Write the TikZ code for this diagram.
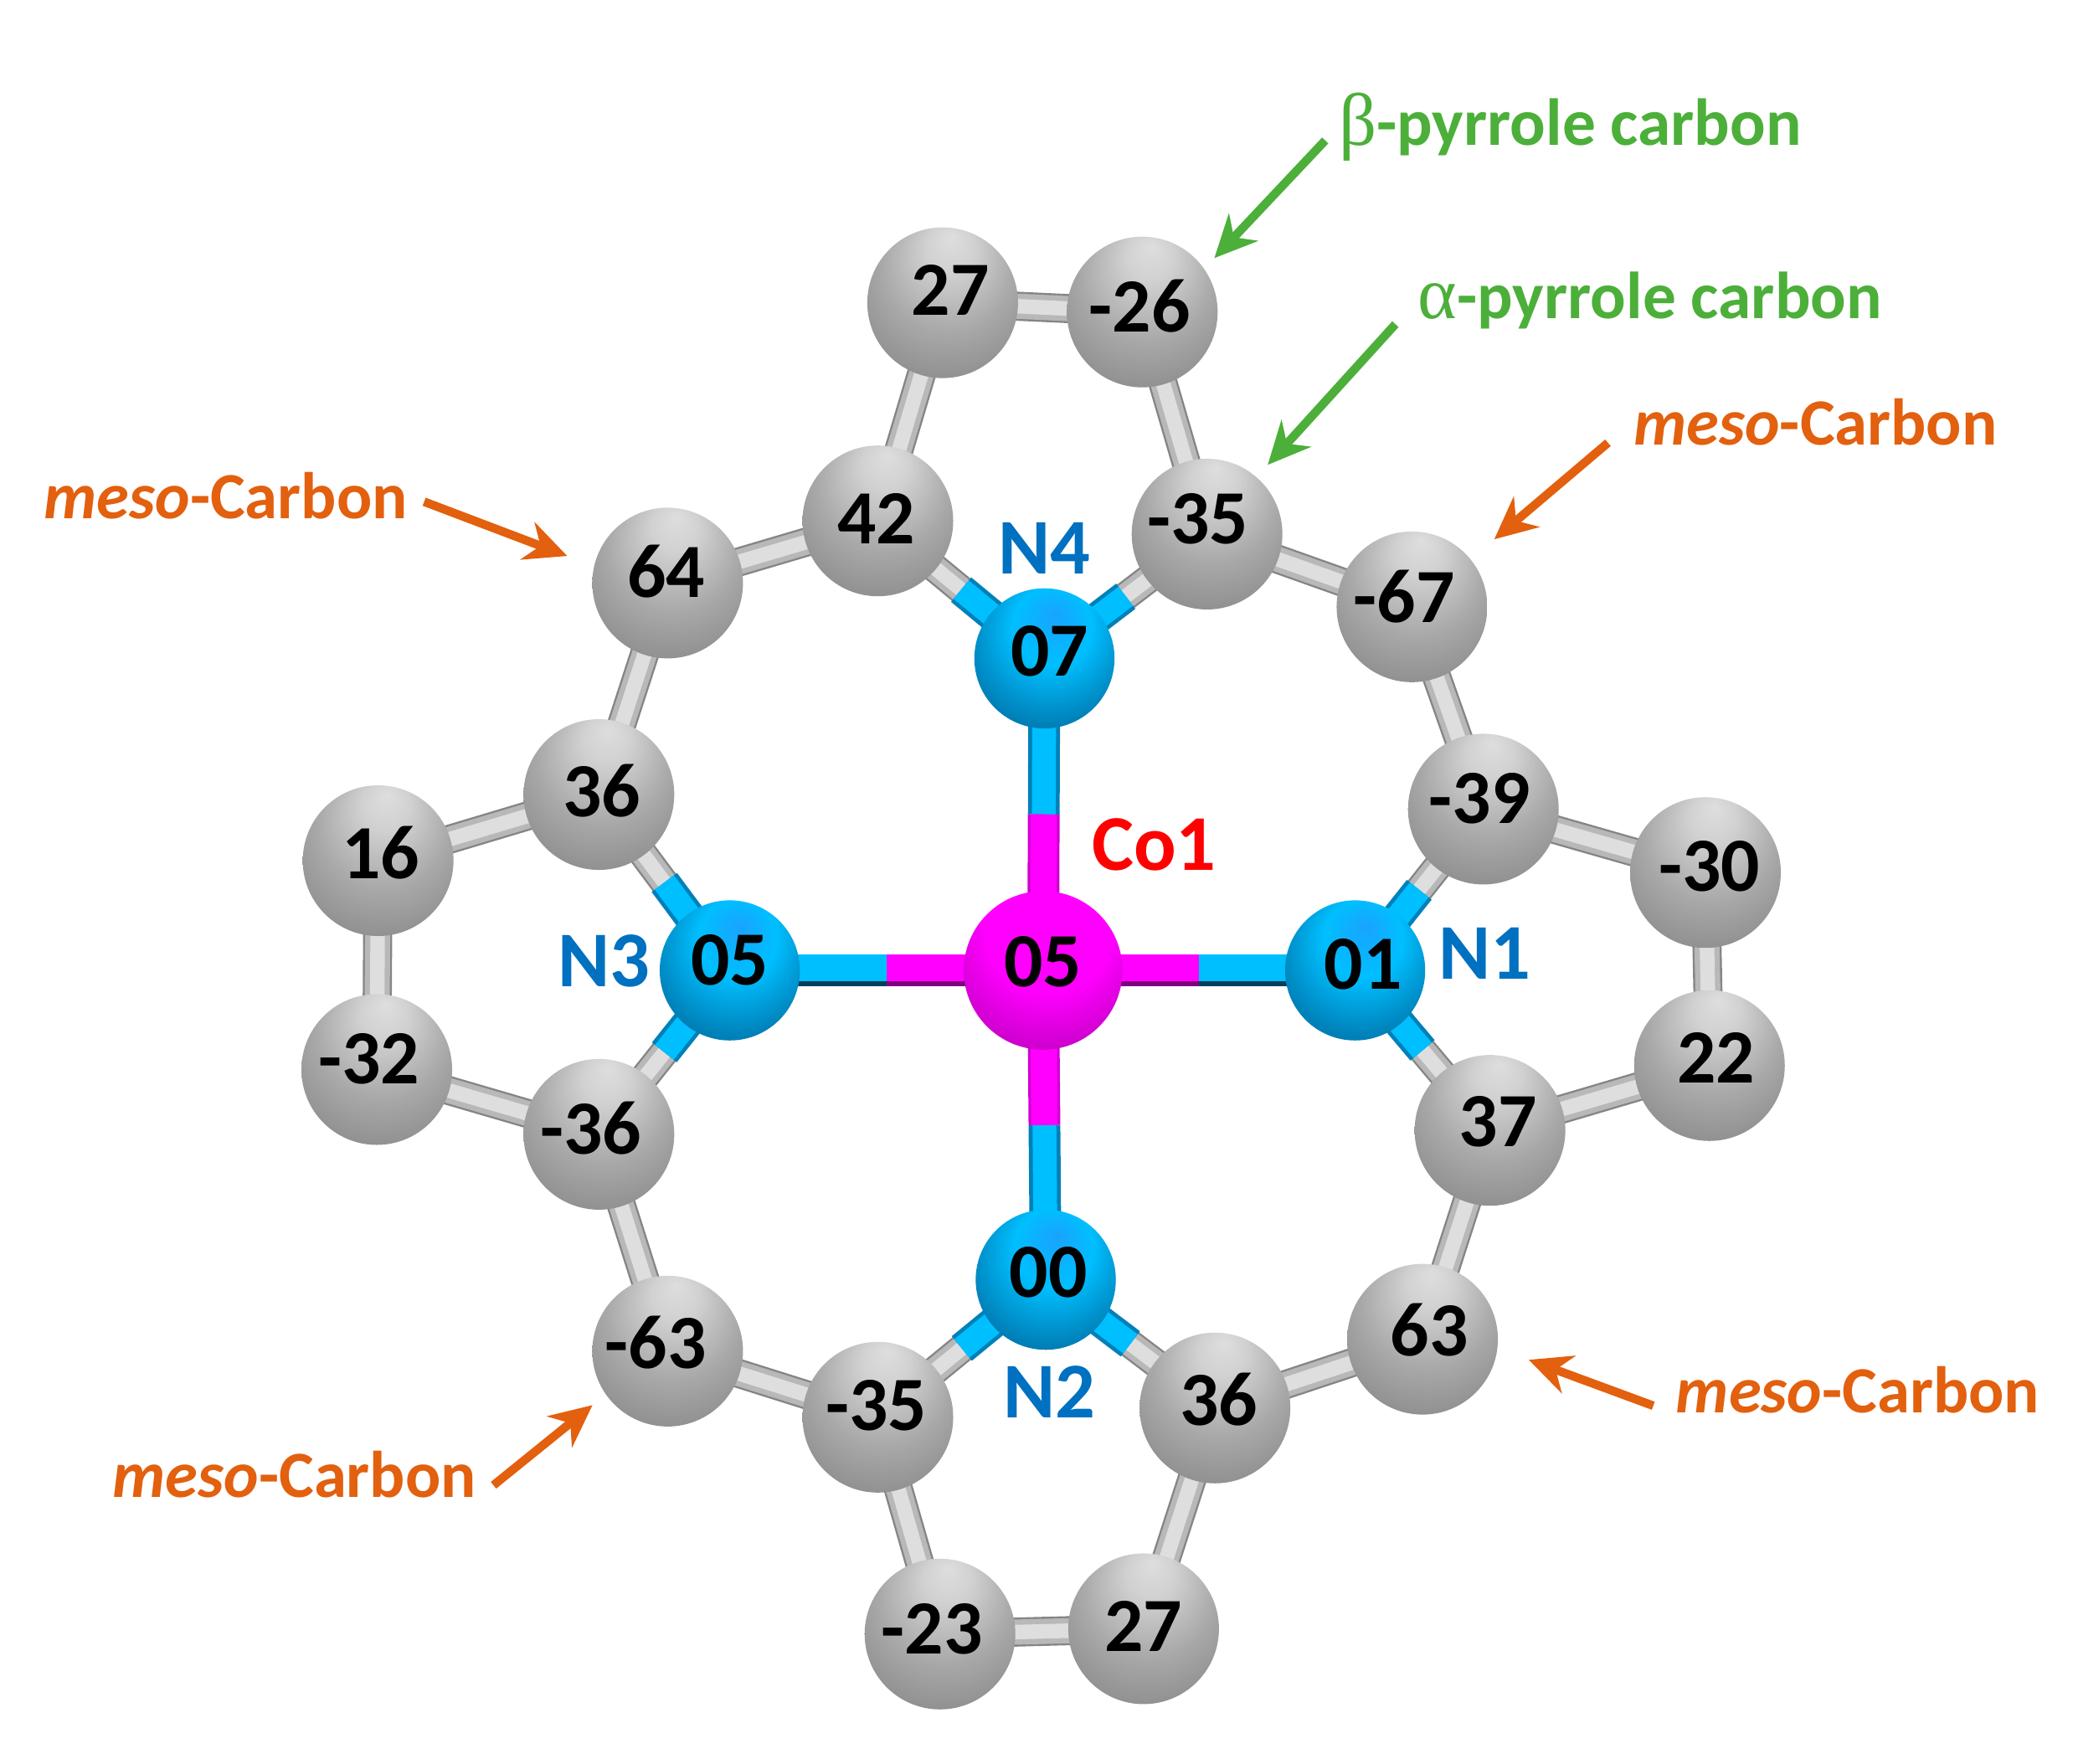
\documentclass[tikz,border=0pt]{standalone}
\usepackage{fontspec}
\setmainfont{Carlito}
\newfontfamily\greekfont{Liberation Serif}
\usetikzlibrary{arrows.meta,backgrounds,calc}
\definecolor{nblue}{HTML}{0070C0}
\definecolor{pgreen}{HTML}{4CAF3A}
\definecolor{morange}{HTML}{E2600E}
\definecolor{cyanbond}{HTML}{00BFFF}
\definecolor{cyanedge}{HTML}{0080B8}
\definecolor{magbond}{HTML}{FF00FF}
\definecolor{magedge}{HTML}{D000D0}
\pgfdeclareradialshading{atomgray}{\pgfpoint{3bp}{22bp}}{
  color(0bp)=(black!13); color(8bp)=(black!18); color(22bp)=(black!34);
  color(36bp)=(black!46); color(45bp)=(black!60); color(50bp)=(black!85)}
\pgfdeclareradialshading{atomblue}{\pgfpoint{4bp}{16bp}}{
  color(0bp)=(cyan!60!blue!90); color(14bp)=(cyanbond); color(30bp)=(cyanedge);
  color(42bp)=(cyanedge!80!black); color(50bp)=(cyanedge!40!black)}
\pgfdeclareradialshading{atommag}{\pgfpoint{3bp}{22bp}}{
  color(0bp)=(magbond); color(20bp)=(magbond); color(34bp)=(magbond!78!black);
  color(44bp)=(magbond!55!black); color(50bp)=(magbond!25!black)}
\tikzset{
  atom/.style    = {shape=circle, inner sep=0pt, shade},
  catom/.style   = {atom, minimum size=11.4mm, shading=atomgray},
  natom/.style   = {atom, minimum size=10.6mm, shading=atomblue},
  coatom/.style  = {atom, minimum size=12mm, shading=atommag},
  charge/.style  = {font=\fontsize{16.5}{18}\selectfont\bfseries, inner sep=0pt, yshift=.5pt},
  nlabel/.style  = {font=\fontsize{17}{20}\selectfont\bfseries, text=nblue, inner sep=0pt},
  colabel/.style = {font=\fontsize{17}{20}\selectfont\bfseries, text=red, inner sep=0pt},
  grnlabel/.style = {font=\fontsize{14.3}{18}\selectfont\bfseries, text=pgreen, inner sep=0pt},
  orglabel/.style = {font=\fontsize{14.2}{18}\selectfont\bfseries, text=morange, inner sep=0pt},
  bond/.style    = {line width=2.2mm, draw=black!48,
                    postaction={draw=black!28, line width=1.9mm},
                    postaction={draw=black!13, line width=1.1mm}},
  nbond/.style   = {line width=2.4mm, draw=cyanedge,
                    postaction={draw=cyanbond, line width=1.8mm}},
  mbond/.style   = {line width=2.4mm, draw=magedge,
                    postaction={draw=magbond, line width=2mm}},
  nflat/.style   = {line width=2.4mm, draw=cyanedge!50!black,
                    postaction={draw=cyanbond, line width=2mm, transform canvas={yshift=.2mm}}},
  mflat/.style   = {line width=2.4mm, draw=magbond!50!black,
                    postaction={draw=magbond, line width=2mm, transform canvas={yshift=.2mm}}},
  grnarrow/.style = {draw=pgreen, line width=.65mm, -{Stealth[length=3.2mm,width=3mm]}},
  orgarrow/.style = {draw=morange, line width=.65mm, -{Stealth[length=3.2mm,width=3mm]}}
}

\begin{document}
\begin{tikzpicture}[x=.1mm,y=-.1mm]
 \useasboundingbox (0,0) rectangle (1568,1334);

 % atoms
 \node[coatom] (co) at (789,734) {};
 \node[natom] (n1) at (1025,734) {};
 \node[natom] (n2) at (791,968) {};
 \node[natom] (n3) at (552,734) {};
 \node[natom] (n4) at (790,498) {};
 \node[catom] (c1) at (713,229) {};
 \node[catom] (c2) at (864,236) {};
 \node[catom] (c3) at (664,394) {};
 \node[catom] (c4) at (913,404) {};
 \node[catom] (c5) at (505,441) {};
 \node[catom] (c6) at (1068,459) {};
 \node[catom] (c7) at (453,601) {};
 \node[catom] (c8) at (1122,612) {};
 \node[catom] (c9) at (286,651) {};
 \node[catom] (c10) at (1290,660) {};
 \node[catom] (c11) at (285,809) {};
 \node[catom] (c12) at (1293,806) {};
 \node[catom] (c13) at (453,858) {};
 \node[catom] (c14) at (1127,855) {};
 \node[catom] (c15) at (505,1022) {};
 \node[catom] (c16) at (1076,1013) {};
 \node[catom] (c17) at (664,1072) {};
 \node[catom] (c18) at (919,1065) {};
 \node[catom] (c19) at (711,1236) {};
 \node[catom] (c20) at (865,1232) {};

 % values on the atoms
 \node[charge] (vco) at (789,729) {05};
 \node[charge] (vn1) at (1031,731) {01};
 \node[charge] (vn2) at (793,964) {00};
 \node[charge] (vn3) at (552,728) {05};
 \node[charge] (vn4) at (794,494) {07};
 \node[charge] (v1) at (719,221) {27};
 \node[charge] (v2) at (862,233) {-26};
 \node[charge] (v3) at (663,394) {42};
 \node[charge] (v4) at (906,394) {-35};
 \node[charge] (v5) at (504,434) {64};
 \node[charge] (v6) at (1062,453) {-67};
 \node[charge] (v7) at (455,600) {36};
 \node[charge] (v8) at (1119,606) {-39};
 \node[charge] (v9) at (288,647) {16};
 \node[charge] (v10) at (1293,657) {-30};
 \node[charge] (v11) at (279,803) {-32};
 \node[charge] (v12) at (1298,802) {22};
 \node[charge] (v13) at (447,855) {-36};
 \node[charge] (v14) at (1133,850) {37};
 \node[charge] (v15) at (496,1017) {-63};
 \node[charge] (v16) at (1081,1008) {63};
 \node[charge] (v17) at (663,1065) {-35};
 \node[charge] (v18) at (922,1060) {36};
 \node[charge] (v19) at (705,1234) {-23};
 \node[charge] (v20) at (865,1232) {27};

 % labels
 \node[colabel] (lco) at (873,639) {Co1};
 \node[nlabel] (ln1) at (1123,721) {N1};
 \node[nlabel] (ln2) at (794,1053) {N2};
 \node[nlabel] (ln3) at (457,727) {N3};
 \node[nlabel] (ln4) at (790,415) {N4};
 \node[grnlabel, anchor=west] (lbeta) at (1012,96) {{\greekfont\mdseries\fontsize{16}{18}\selectfont β}-pyrrole carbon};
 \node[grnlabel, anchor=west] (lalpha) at (1072,227) {{\greekfont\mdseries\fontsize{16}{18}\selectfont α}-pyrrole carbon};
 \node[orglabel, anchor=west] (lm1) at (1235,319) {\textit{meso}-Carbon};
 \node[orglabel, anchor=east] (lm2) at (309,375) {\textit{meso}-Carbon};
 \node[orglabel, anchor=west] (lm3) at (1267,1051) {\textit{meso}-Carbon};
 \node[orglabel, anchor=east] (lm4) at (361,1115) {\textit{meso}-Carbon};

 % arrows
 \draw[grnarrow, shorten <=4pt, shorten >=3pt] (lbeta.west) -- (c2.35);
 \draw[grnarrow, shorten <=7pt, shorten >=3.4pt] (lalpha.west) -- (c4.49);
 \draw[orgarrow, shorten <=7pt, shorten >=6.5pt] (lm1.west) -- (c6.39);
 \draw[orgarrow, shorten <=3.6pt, shorten >=6pt] (lm2.east) -- (c5.167);
 \draw[orgarrow, shorten <=5pt, shorten >=7pt] (lm3.south west) -- (c16.353);
 \draw[orgarrow, shorten <=4.5pt, shorten >=3.5pt] (lm4.south east) -- (c15.215);

 % bonds
 \begin{pgfonlayer}{background}
 \draw[bond] (c1.center) -- (c2.center);
 \draw[bond] (c1.center) -- (c3.center);
 \draw[bond] (c2.center) -- (c4.center);
 \draw[bond] (c3.center) -- (c5.center);
 \draw[bond] (c4.center) -- (c6.center);
 \draw[bond] (c5.center) -- (c7.center);
 \draw[bond] (c6.center) -- (c8.center);
 \draw[bond] (c7.center) -- (c9.center);
 \draw[bond] (c8.center) -- (c10.center);
 \draw[bond] (c9.center) -- (c11.center);
 \draw[bond] (c10.center) -- (c12.center);
 \draw[bond] (c11.center) -- (c13.center);
 \draw[bond] (c12.center) -- (c14.center);
 \draw[bond] (c13.center) -- (c15.center);
 \draw[bond] (c14.center) -- (c16.center);
 \draw[bond] (c15.center) -- (c17.center);
 \draw[bond] (c16.center) -- (c18.center);
 \draw[bond] (c17.center) -- (c19.center);
 \draw[bond] (c18.center) -- (c20.center);
 \draw[bond] (c19.center) -- (c20.center);
 \draw[bond] (n4.center) -- (c3.center);
 \draw[bond] (n4.center) -- (c4.center);
 \draw[bond] (n3.center) -- (c7.center);
 \draw[bond] (n3.center) -- (c13.center);
 \draw[bond] (n1.center) -- (c8.center);
 \draw[bond] (n1.center) -- (c14.center);
 \draw[bond] (n2.center) -- (c17.center);
 \draw[bond] (n2.center) -- (c18.center);
 \draw[nbond] (n4.center) -- ($(n4)!.5!(c3)$);
 \draw[nbond] (n4.center) -- ($(n4)!.5!(c4)$);
 \draw[nbond] (n3.center) -- ($(n3)!.5!(c7)$);
 \draw[nbond] (n3.center) -- ($(n3)!.5!(c13)$);
 \draw[nbond] (n1.center) -- ($(n1)!.5!(c8)$);
 \draw[nbond] (n1.center) -- ($(n1)!.5!(c14)$);
 \draw[nbond] (n2.center) -- ($(n2)!.5!(c17)$);
 \draw[nbond] (n2.center) -- ($(n2)!.5!(c18)$);
 \draw[nflat] (n1.center) -- ($(co)!.5!(n1)$);
 \draw[nbond] (n2.center) -- ($(co)!.5!(n2)$);
 \draw[nflat] (n3.center) -- ($(co)!.5!(n3)$);
 \draw[nbond] (n4.center) -- ($(co)!.5!(n4)$);
 \draw[mflat] (co.center) -- ($(co)!.5!(n1)$);
 \draw[mbond] (co.center) -- ($(co)!.5!(n2)$);
 \draw[mflat] (co.center) -- ($(co)!.5!(n3)$);
 \draw[mbond] (co.center) -- ($(co)!.5!(n4)$);
 \end{pgfonlayer}
\end{tikzpicture}
\end{document}
